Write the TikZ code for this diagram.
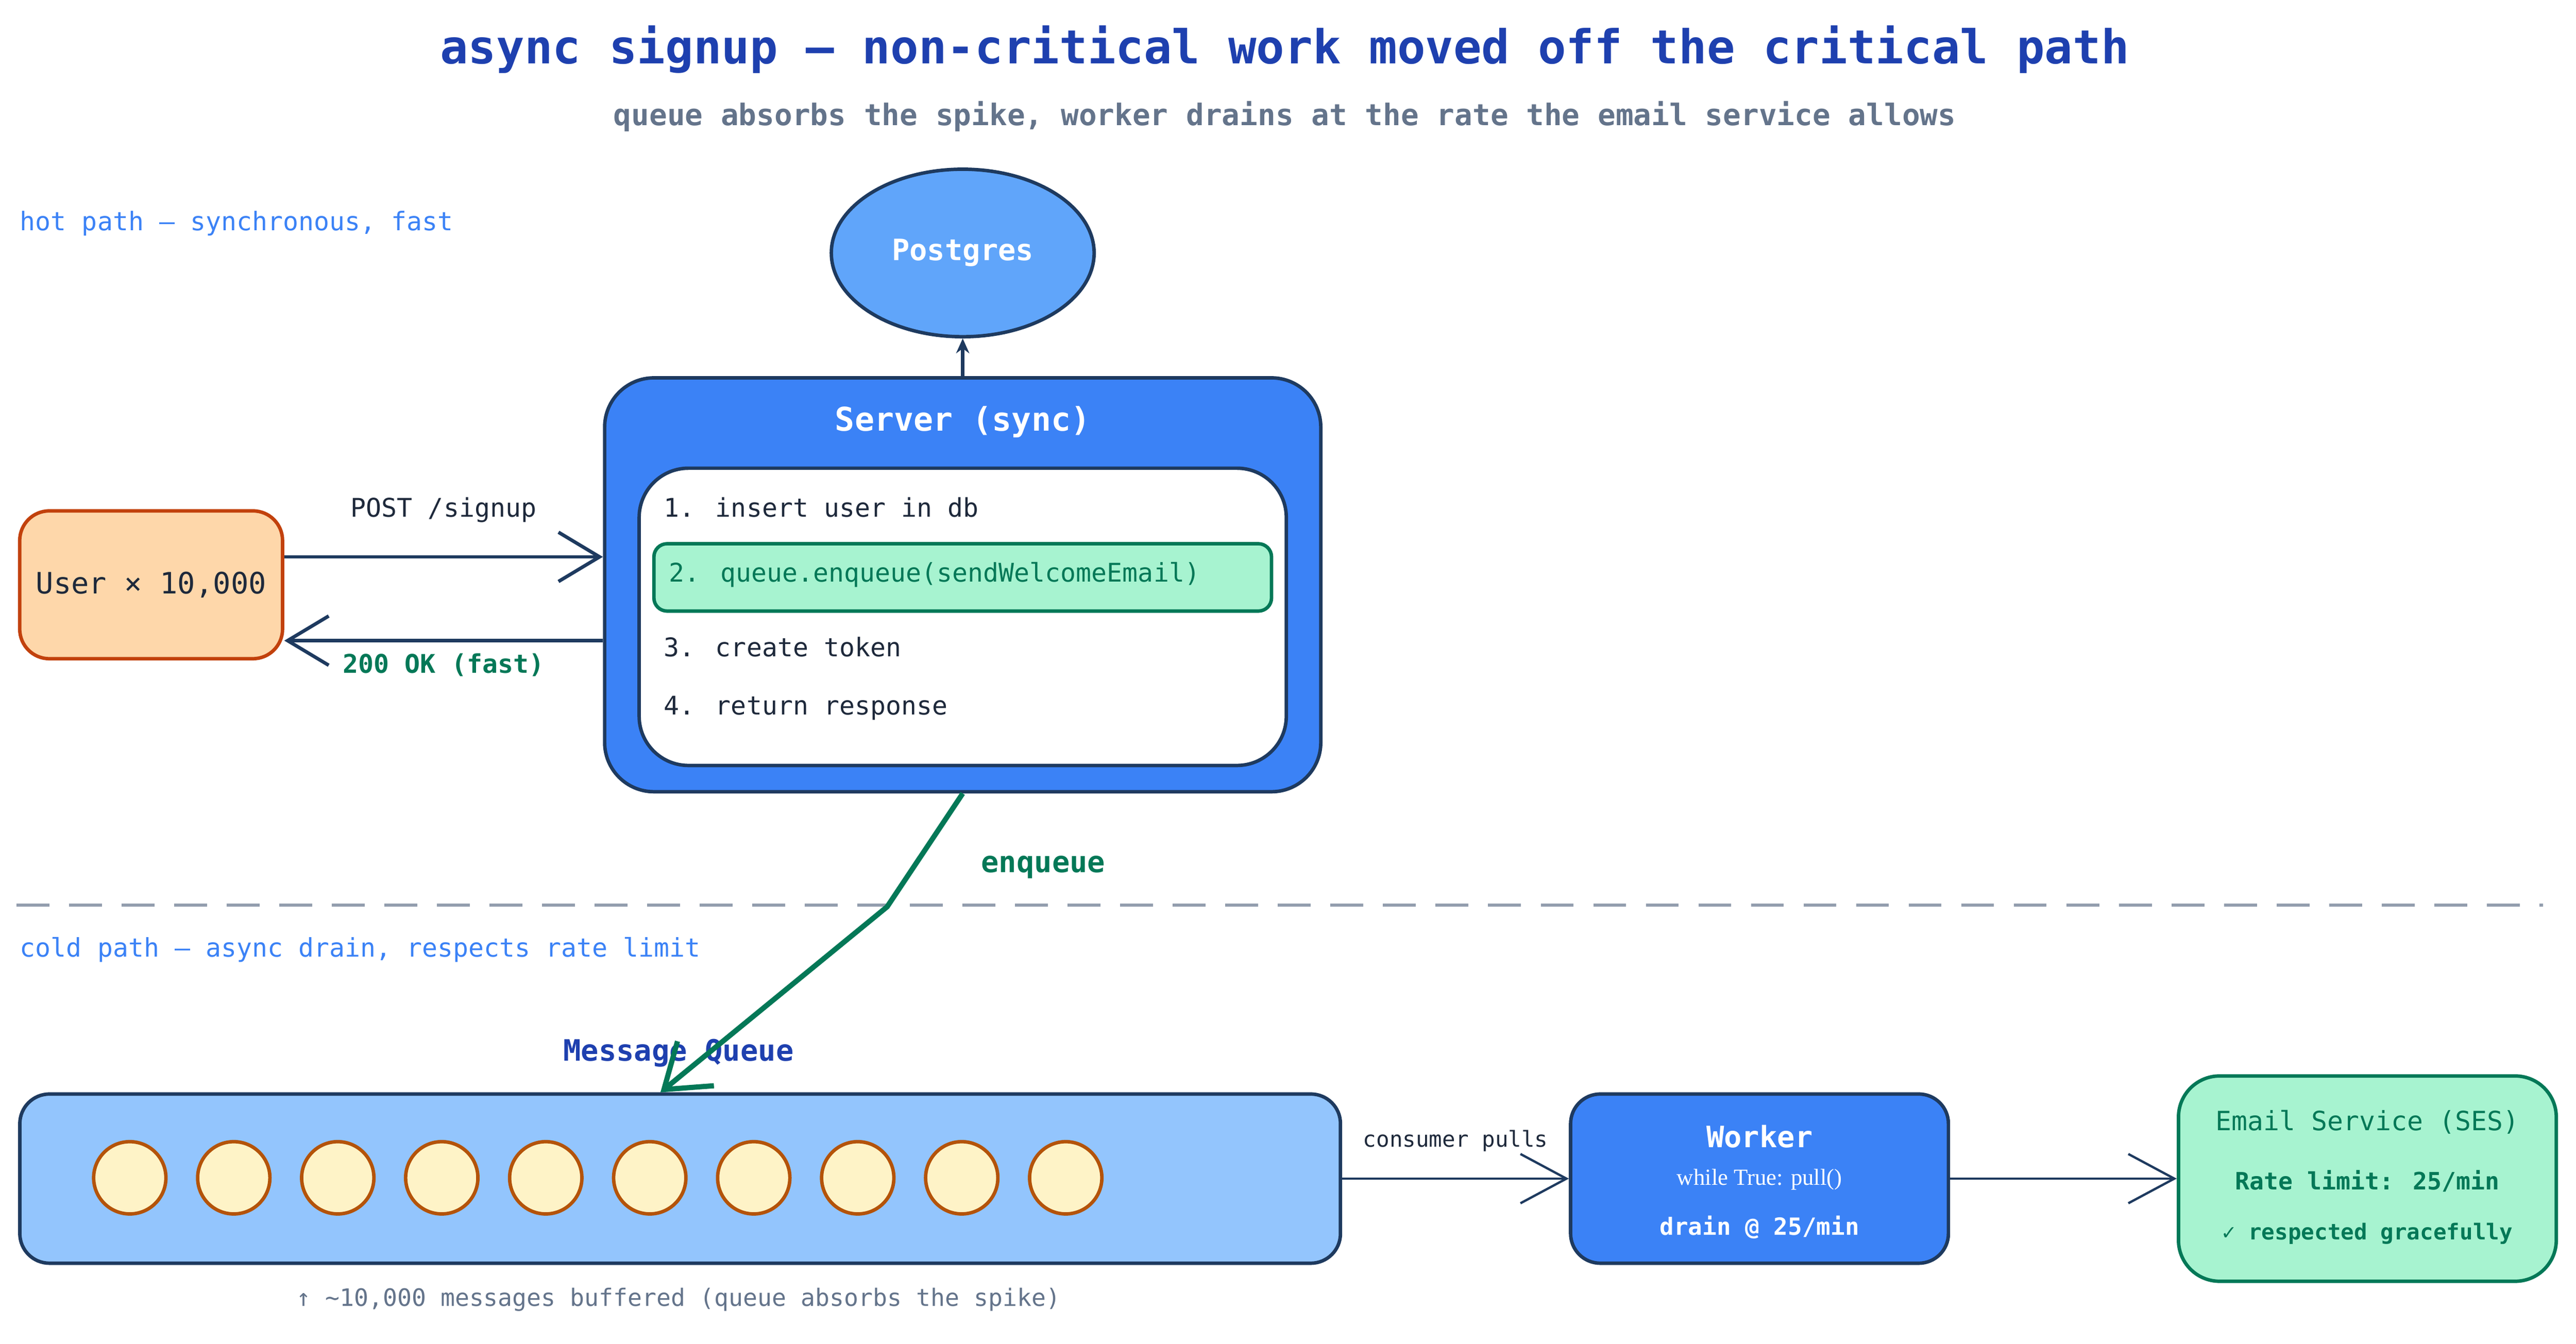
\documentclass[tikz,border=0pt]{standalone}
\usepackage{fontspec}
\setmainfont{DejaVu Sans Mono}
\newfontfamily\serifw{Liberation Serif}
\usetikzlibrary{arrows.meta,shapes.geometric}
\definecolor{ink}{HTML}{1E3A5F}
\definecolor{navy}{HTML}{1E40AF}
\definecolor{slate}{HTML}{64748B}
\definecolor{hotblue}{HTML}{3B82F6}
\definecolor{pgblue}{HTML}{60A5FA}
\definecolor{qblue}{HTML}{93C5FD}
\definecolor{mint}{HTML}{A7F3D0}
\definecolor{mintdk}{HTML}{047857}
\definecolor{peach}{HTML}{FED7AA}
\definecolor{rust}{HTML}{C2410C}
\definecolor{cream}{HTML}{FEF3C7}
\definecolor{amber}{HTML}{B45309}
\definecolor{textdk}{HTML}{1E293B}
\tikzset{fs/.style={font=\fontsize{#1}{#1}\selectfont}, fsb/.style={font=\fontsize{#1}{#1}\selectfont\bfseries},
 box/.style={draw=ink, line width=1.2pt, rounded corners=#1}, box/.default={0.36cm},
 barb/.style={-{Straight Barb[length=0.5cm,width=0.6cm]}, line width=1.2pt, draw=ink}}
\begin{document}
\begin{tikzpicture}[x=0.02cm, y=-0.02cm]
\useasboundingbox (0,0) rectangle (1568,818);
% titles
\node[fsb=16.2pt, text=navy] (title) at (782,30) {async signup — non-critical work moved off the critical path};
\node[fsb=10.3pt, text=slate] (sub) at (782,71) {queue absorbs the spike, worker drains at the rate the email service allows};
\node[fs=8.9pt, text=hotblue, anchor=west] (hot) at (6,136) {hot path — synchronous, fast};
\node[fs=8.9pt, text=hotblue, anchor=west] (cold) at (6,578) {cold path — async drain, respects rate limit};
% hot path
\node[ellipse, draw=ink, line width=1.2pt, fill=pgblue, minimum width=3.2cm, minimum height=2.04cm, text=white, fsb=10.2pt] (pg) at (586,154) {Postgres};
\node[box=0.6cm, fill=hotblue, minimum width=8.72cm, minimum height=5.04cm] (server) at (586,356) {};
\node[fsb=11.3pt, text=white] (stitle) at (586,257) {Server (sync)};
\node[box=0.6cm, fill=white, minimum width=7.88cm, minimum height=3.62cm] (inner) at (586,375.5) {};
\node[draw=mintdk, line width=1.2pt, rounded corners=0.16cm, fill=mint, minimum width=7.52cm, minimum height=0.82cm] (hl) at (586,351.5) {};
\node[fs=8.9pt, text=textdk, anchor=west] (s1) at (398,309) {1. insert user in db};
\node[fs=8.9pt, text=mintdk, anchor=west] (s2) at (401,350) {2. queue.enqueue(sendWelcomeEmail)};
\node[fs=8.9pt, text=textdk, anchor=west] (s3) at (398,394) {3. create token};
\node[fs=8.9pt, text=textdk, anchor=west] (s4) at (398,431) {4. return response};
\node[draw=rust, line width=1.2pt, rounded corners=0.36cm, fill=peach, minimum width=3.2cm, minimum height=1.8cm, fs=10.2pt, text=textdk] (user) at (92,356) {User × 10,000};
\draw[-{Stealth[length=0.18cm,width=0.16cm]}, line width=1.2pt, draw=ink] (server.north) -- (pg.south);
\draw[barb] ([yshift=0.34cm]user.east) -- ([yshift=0.34cm]server.west) node[midway, above=0.28cm, fs=8.9pt, text=textdk] {POST /signup};
\draw[barb] ([yshift=-0.68cm]server.west) -- ([yshift=-0.68cm]user.east) node[midway, below=0.02cm, fsb=8.9pt, text=mintdk] {200 OK (fast)};
% divider
\draw[slate!70, line width=1pt, dash pattern=on 0.4cm off 0.24cm] (10,551) -- (1548,551);
% cold path
\node[fsb=10.2pt, text=navy] (mqlabel) at (413,641) {Message Queue};
\node[box, fill=qblue, minimum width=16.08cm, minimum height=2.06cm] (queue) at (414,717.5) {};
\foreach \i in {0,...,9}
  \draw[amber, line width=1.2pt, fill=cream] (79+63.3*\i,717) circle [radius=0.44cm];
\node[box, fill=hotblue, minimum width=4.6cm, minimum height=2.06cm] (worker) at (1071,717.5) {};
\node[fsb=10.2pt, text=white] (wt) at (1071,692) {Worker};
\node[font=\serifw\fontsize{8}{8}\selectfont, text=white] (wl) at (1071,718) {while True: pull()};
\node[fsb=8.2pt, text=white] (wd) at (1071,747) {drain @ 25/min};
\node[draw=mintdk, line width=1.2pt, rounded corners=0.5cm, fill=mint, minimum width=4.6cm, minimum height=2.5cm] (email) at (1441,717.5) {};
\node[fs=9.2pt, text=mintdk] (et) at (1441,683) {Email Service (SES)};
\node[fsb=8.3pt, text=mintdk] (er) at (1441,719) {Rate limit: 25/min};
\node[fsb=7.6pt, text=mintdk] (eg) at (1441,751) {✓ respected gracefully};
\draw[-{Straight Barb[length=0.56cm,width=0.6cm]}, line width=0.8pt, draw=ink] (queue.east) -- (worker.west) node[midway, above=0.2cm, fs=7.6pt, text=textdk] {consumer pulls};
\draw[-{Straight Barb[length=0.56cm,width=0.6cm]}, line width=0.8pt, draw=ink] (worker.east) -- (email.west);
\node[fs=8.3pt, text=slate] (foot) at (413,791) {↑ \textasciitilde10,000 messages buffered (queue absorbs the spike)};
% enqueue
\coordinate (bend) at (540,552);
\coordinate (qin) at (402,665);
\draw[-{Straight Barb[length=0.5cm,width=0.7cm]}, line width=1.8pt, draw=mintdk] (server.south) -- (bend) -- (qin);
\node[fsb=10.2pt, text=mintdk] (enq) at (635,528) {enqueue};
\end{tikzpicture}
\end{document}
